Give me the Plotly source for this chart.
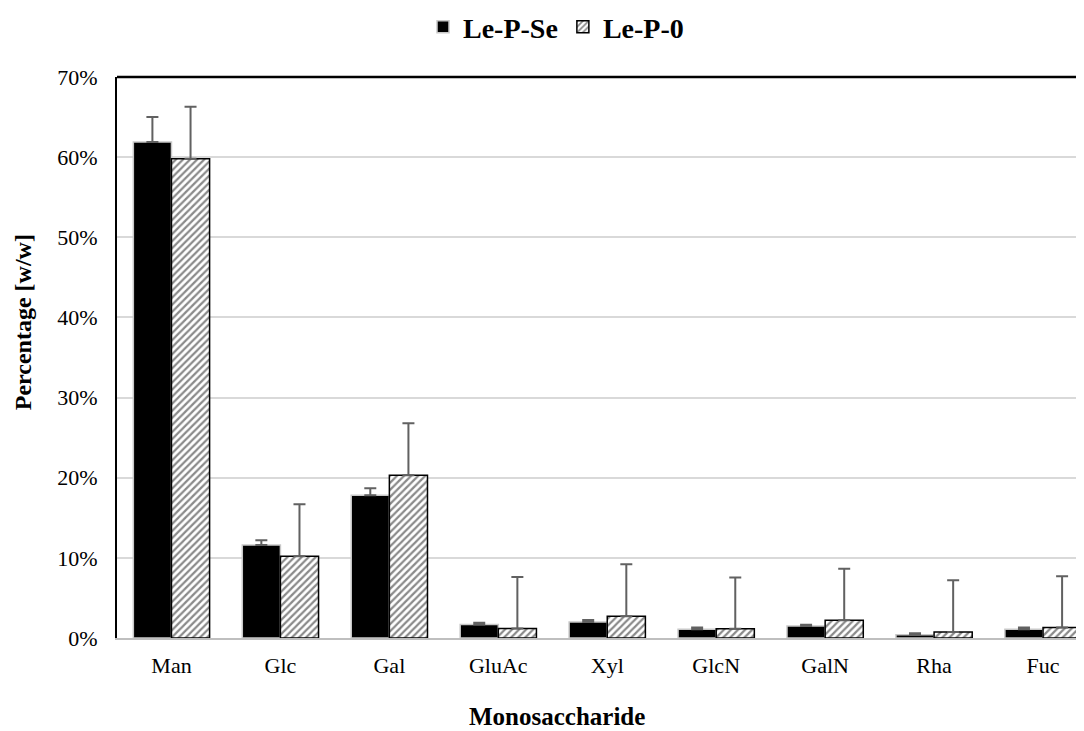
import plotly.graph_objects as go

categories = ["Man", "Glc", "Gal", "GluAc", "Xyl", "GlcN", "GalN", "Rha", "Fuc"]
le_p_se = [61.9, 11.6, 17.8, 1.7, 2.0, 1.1, 1.5, 0.4, 1.1]
le_p_se_err = [3.1, 0.6, 0.9, 0.2, 0.25, 0.2, 0.15, 0.2, 0.2]
le_p_0 = [59.8, 10.2, 20.3, 1.2, 2.7, 1.15, 2.2, 0.75, 1.3]
le_p_0_err = [6.5, 6.5, 6.5, 6.4, 6.5, 6.4, 6.45, 6.45, 6.4]
y_ticks = [0, 10, 20, 30, 40, 50, 60, 70]
y_tick_labels = [f"{v}%" for v in y_ticks]

FONT = "Liberation Serif"
ERR_COLOR = "#616161"

fig = go.Figure()
fig.add_trace(go.Bar(
    name="<b>Le-P-Se</b>", x=categories, y=le_p_se,
    marker=dict(color="#000000", line=dict(color="#c8c8c8", width=1.5)),
    error_y=dict(type="data", array=le_p_se_err, arrayminus=[0] * len(le_p_se_err),
                 symmetric=False, color=ERR_COLOR, thickness=2, width=6),
))
fig.add_trace(go.Bar(
    name="<b>Le-P-0</b>", x=categories, y=le_p_0,
    marker=dict(color="#ffffff", line=dict(color="#000000", width=1.5),
                pattern=dict(shape="/", fgcolor="#8a8a8a", bgcolor="#ffffff",
                             size=5, solidity=0.45, fillmode="replace")),
    error_y=dict(type="data", array=le_p_0_err, arrayminus=[0] * len(le_p_0_err),
                 symmetric=False, color=ERR_COLOR, thickness=2, width=6),
))

fig.update_layout(
    width=1076, height=723,
    margin=dict(l=109, r=0, t=69, b=93, autoexpand=False),
    paper_bgcolor="white", plot_bgcolor="white",
    barmode="group", bargap=0.30, bargroupgap=0,
    font=dict(family=FONT, color="#000000", size=22),
    showlegend=True,
    legend=dict(orientation="h", x=0.454, xanchor="center", yref="container",
                y=1 - 19 / 723, yanchor="middle",
                font=dict(family=FONT, size=28, color="#000000"),
                itemwidth=30, tracegroupgap=0, traceorder="normal"),
    xaxis=dict(range=[-0.5, 8.376], showgrid=False, showline=True, linecolor="#bfbfbf",
               linewidth=2, ticks="", tickfont=dict(family=FONT, size=22),
               ticklabelstandoff=7, fixedrange=True, automargin=False),
    yaxis=dict(range=[0, 70], tickmode="array", tickvals=y_ticks, ticktext=y_tick_labels,
               showgrid=True, gridcolor="#d9d9d9", gridwidth=2, showline=True,
               linecolor="#000000", linewidth=2, ticks="", zeroline=False,
               tickfont=dict(family=FONT, size=22), ticklabelstandoff=13,
               automargin=False),
    shapes=[dict(type="line", xref="paper", yref="paper", x0=0, x1=1, y0=1, y1=1,
                 line=dict(color="#000000", width=2.5))],
    annotations=[
        dict(text="<b>Percentage [w/w]</b>", textangle=-90, xref="paper", yref="paper",
             x=-0.0977, y=0.562, xanchor="center", yanchor="middle", showarrow=False,
             font=dict(family=FONT, size=24)),
        dict(text="<b>Monosaccharide</b>", xref="paper", yref="paper",
             x=0.4545, y=-0.14, xanchor="center", yanchor="middle", showarrow=False,
             font=dict(family=FONT, size=25)),
    ],
)

fig.write_html("out.html")
